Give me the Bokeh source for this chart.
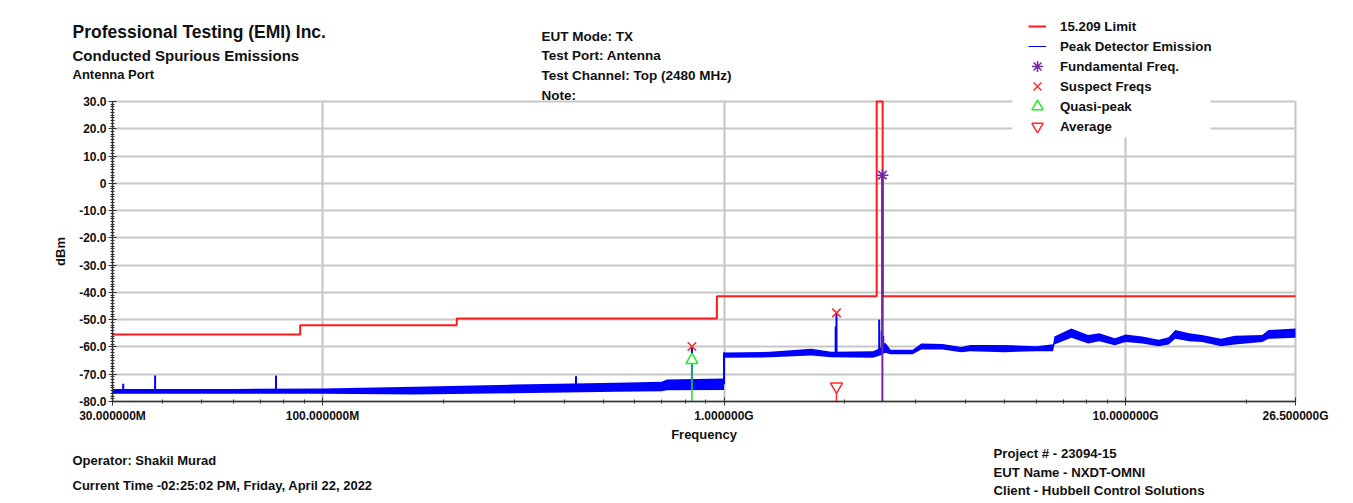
import numpy as np
from bokeh.plotting import figure
from bokeh.models import (Range1d, FixedTicker, CustomJSTickFormatter, Label,
                          Legend, LegendItem, BoxAnnotation)
from bokeh.embed import file_html
from bokeh.resources import INLINE

# ---------------- data (frequencies in MHz, levels in dBm) ----------------
limit_edges_mhz = [30, 88, 216, 960, 2400, 2483.5, 26500]
limit_dbm = [-55.4, -52.0, -49.6, -41.4, 30.0, -41.4]

low_f_mhz = [30, 60, 100, 170, 300, 540, 700, 720, 999.9]
low_min = [-77.2, -77.2, -77.2, -77.4, -77.0, -76.4, -76.2, -75.9, -75.8]
low_max = [-75.4, -75.4, -75.2, -74.6, -73.8, -73.1, -72.8, -71.9, -71.6]

high_f_mhz = [1000, 1300, 1650, 1850, 2350, 2450, 2520, 2600, 2950, 3100, 3500,
              3900, 4100, 5000, 6000, 6600, 6650, 7330, 8070, 8600, 9400, 10000,
              11000, 12100, 12800, 13300, 14400, 15500, 17300, 18700, 21900,
              22700, 26500]
high_min = [-64.0, -63.8, -63.1, -63.8, -64.0, -63.1, -62.1, -62.7, -62.7, -60.9,
            -60.9, -61.9, -61.6, -61.9, -61.6, -61.6, -59.1, -56.6, -58.7, -57.9,
            -59.4, -58.2, -58.7, -59.7, -59.1, -57.0, -57.9, -58.2, -59.7, -59.1,
            -58.2, -57.0, -56.6]
high_max = [-62.0, -61.8, -60.7, -61.8, -61.6, -60.4, -58.4, -61.0, -61.0, -58.7,
            -58.9, -60.0, -59.3, -59.3, -59.7, -59.0, -56.2, -53.2, -55.6, -55.0,
            -56.8, -55.4, -56.2, -57.4, -56.4, -53.8, -55.0, -55.6, -57.0, -55.9,
            -55.6, -53.8, -53.2]

spike_f_mhz = [31.9, 38.3, 76.6, 428, 832, 1897, 1906, 2435, 2470, 2480, 2492]
spike_dbm = [-73.5, -70.5, -70.5, -70.7, -59.8, -52.5, -47.5, -50.0, -54.0, 3.0, -56.0]

fund_f_mhz = [2480]
fund_dbm = [3.0]
suspect_f_mhz = [832, 1906]
suspect_dbm = [-59.8, -47.5]
qp_f_mhz = [832]
qp_dbm = [-64.8]
avg_f_mhz = [1906]
avg_dbm = [-74.5]

y_ticks = [-80, -70, -60, -50, -40, -30, -20, -10, 0, 10, 20, 30]
x_major_mhz = [30, 100, 1000, 10000, 26500]
x_minor_mhz = [40, 50, 60, 70, 80, 90, 200, 300, 400, 500, 600, 700, 800, 900,
               2000, 3000, 4000, 5000, 6000, 7000, 8000, 9000, 20000]
x_grid_mhz = [100, 1000, 10000, 26500]

# ---------------- layout helpers ----------------
M = 1e6
XMIN, XMAX, YMIN, YMAX = 30 * M, 26.5e9, -80, 30
W, H = 1340, 500
PL, PR = 112, 1295          # pixel columns of 30 MHz and 26.5 GHz
PT, PB = 101, 401           # pixel rows of 30 dBm and -80 dBm
DEC = np.log10(XMAX / XMIN)
KX = DEC / (PR - PL)
KY = (YMAX - YMIN) / (PB - PT)
X_LEFT = XMIN * 10 ** (-PL * KX)
X_RIGHT = XMIN * 10 ** ((W - PL) * KX)
Y_TOP = YMAX + PT * KY
Y_BOT = YMAX - (H - PT) * KY
FONT = "Liberation Sans"


def px_to_data(X, Y):
    return XMIN * 10 ** ((X - PL) * KX), YMAX - (Y - PT) * KY


p = figure(width=W, height=H, x_axis_type="log",
           x_range=Range1d(X_LEFT, X_RIGHT), y_range=Range1d(Y_BOT, Y_TOP),
           output_backend="svg", toolbar_location=None,
           min_border_left=0, min_border_right=0,
           min_border_top=0, min_border_bottom=0)
p.background_fill_color = "white"
p.border_fill_color = "white"
p.outline_line_color = None

# grids (limited to the 30 MHz..26.5 GHz x -80..30 dBm box)
GRID_X_COLOR, GRID_Y_COLOR = "#c4c4c4", "#c8c8c8"
if "cross_bounds" in p.ygrid[0].properties():
    p.ygrid.ticker = FixedTicker(ticks=y_ticks)
    p.ygrid.cross_bounds = (XMIN, XMAX)
    p.ygrid.grid_line_color = GRID_Y_COLOR
    p.ygrid.grid_line_width = 2
    p.xgrid.ticker = FixedTicker(ticks=[f * M for f in x_grid_mhz])
    p.xgrid.cross_bounds = (YMIN, YMAX)
    p.xgrid.grid_line_color = GRID_X_COLOR
    p.xgrid.grid_line_width = 2
else:
    p.xgrid.visible = False
    p.ygrid.visible = False
    p.segment(x0=[XMIN] * len(y_ticks), y0=y_ticks, x1=[XMAX] * len(y_ticks),
              y1=y_ticks, line_color=GRID_Y_COLOR, line_width=2)
    p.segment(x0=[f * M for f in x_grid_mhz], y0=[YMIN] * len(x_grid_mhz),
              x1=[f * M for f in x_grid_mhz], y1=[YMAX] * len(x_grid_mhz),
              line_color=GRID_X_COLOR, line_width=2)

# axes
xa = p.xaxis[0]
xa.fixed_location = YMIN
xa.bounds = (XMIN, XMAX)
xa.ticker = FixedTicker(ticks=[f * M for f in x_major_mhz],
                        minor_ticks=[f * M for f in x_minor_mhz])
xa.formatter = CustomJSTickFormatter(code="""
  if (tick >= 1e9) { return (tick/1e9).toFixed(6) + "G"; }
  return (tick/1e6).toFixed(6) + "M";
""")
ya = p.yaxis[0]
ya.fixed_location = XMIN
ya.bounds = (YMIN, YMAX)
ya.ticker = FixedTicker(ticks=y_ticks, minor_ticks=list(range(-80, 31, 1)))
ya.formatter = CustomJSTickFormatter(code="""
  if (Math.abs(tick) < 1e-9) { return "0"; }
  return tick.toFixed(1);
""")
for ax in (xa, ya):
    ax.axis_line_color = "#333333"
    ax.axis_line_width = 1.5
    ax.major_tick_line_color = "#333333"
    ax.minor_tick_line_color = "#333333"
    ax.major_tick_in = 4
    ax.major_tick_out = 4
    ax.minor_tick_in = 2
    ax.minor_tick_out = 2
    ax.major_label_text_font = FONT
    ax.major_label_text_font_style = "bold"
    ax.major_label_text_font_size = "12px"
    ax.major_label_text_color = "#111111"
    ax.axis_label_text_font = FONT
    ax.axis_label_text_font_style = "bold"
    ax.axis_label_text_font_size = "13px"
    ax.axis_label_text_color = "#111111"
xa.axis_label = "Frequency"
xa.major_label_standoff = 3
xa.axis_label_standoff = 1
ya.axis_label = "dBm"
ya.major_label_standoff = 2
ya.axis_label_standoff = 8

# ---------------- marks ----------------
ex, ey = [], []
for i in range(len(limit_dbm)):
    ex += [limit_edges_mhz[i] * M, limit_edges_mhz[i + 1] * M]
    ey += [limit_dbm[i], limit_dbm[i]]
limit_r = p.line(ex, ey, line_color="#ff1a1a", line_width=2)

lf = np.array(low_f_mhz) * M
hf = np.array(high_f_mhz) * M
p.varea(x=lf, y1=low_min, y2=low_max, fill_color="#0000ff")
p.varea(x=hf, y1=high_min, y2=high_max, fill_color="#0000ff")
p.segment(x0=[1000 * M], y0=[(low_min[-1] + low_max[-1]) / 2],
          x1=[1000 * M], y1=[high_max[0]], line_color="#0000ff", line_width=2)

all_f = np.concatenate([lf, hf])
all_mid = np.concatenate([(np.array(low_min) + np.array(low_max)) / 2,
                          (np.array(high_min) + np.array(high_max)) / 2])
sf = np.array(spike_f_mhz) * M
sbase = np.interp(np.log10(sf), np.log10(all_f), all_mid)
p.segment(x0=sf, y0=sbase, x1=sf, y1=spike_dbm, line_color="#0000ff", line_width=2)

peak_leg = p.line([np.nan], [np.nan], line_color="#0000ff", line_width=1)

p.segment(x0=[f * M for f in fund_f_mhz], y0=fund_dbm,
          x1=[f * M for f in fund_f_mhz], y1=[YMIN] * len(fund_f_mhz),
          line_color="#7a25a6", line_width=2)
p.segment(x0=[f * M for f in qp_f_mhz], y0=qp_dbm,
          x1=[f * M for f in qp_f_mhz], y1=[YMIN] * len(qp_f_mhz),
          line_color="#22dd22", line_width=1.5)
p.segment(x0=[f * M for f in avg_f_mhz], y0=avg_dbm,
          x1=[f * M for f in avg_f_mhz], y1=[YMIN] * len(avg_f_mhz),
          line_color="#ff2a2a", line_width=1.5)

fund_r = p.scatter([f * M for f in fund_f_mhz], fund_dbm, marker="asterisk",
                   size=12, line_color="#7a25a6", line_width=1.5)
sus_r = p.scatter([f * M for f in suspect_f_mhz], suspect_dbm, marker="x",
                  size=12, line_color="#ff2a2a", line_width=1.5)
qp_r = p.scatter([f * M for f in qp_f_mhz], qp_dbm, marker="triangle",
                 size=12, line_color="#22ee22", fill_color="white", line_width=1.5)
avg_r = p.scatter([f * M for f in avg_f_mhz], avg_dbm, marker="inverted_triangle",
                  size=12, line_color="#ff2a2a", fill_color="white", line_width=1.5)

# ---------------- legend ----------------
bx0, by0 = px_to_data(1012, 12)
bx1, by1 = px_to_data(1210, 137)
p.add_layout(BoxAnnotation(left=bx0, right=bx1, top=by0, bottom=by1,
                           fill_color="white", fill_alpha=1.0, line_color=None))


def style_legend(lg):
    lg.label_text_font = FONT
    lg.label_text_font_style = "bold"
    lg.label_text_font_size = "13.3px"
    lg.label_text_color = "#111111"
    lg.margin = 0
    lg.padding = 0
    lg.border_line_color = None
    lg.background_fill_alpha = 0.0


leg_lines = Legend(items=[
    LegendItem(label="15.209 Limit", renderers=[limit_r]),
    LegendItem(label="Peak Detector Emission", renderers=[peak_leg]),
], location=(1028, H - 56))
style_legend(leg_lines)
leg_lines.glyph_width = 18
leg_lines.glyph_height = 20
leg_lines.label_height = 20
leg_lines.spacing = 0
leg_lines.label_standoff = 14
p.add_layout(leg_lines)

# marker entries: one legend per row, bigger glyph box so markers are ~11px
marker_rows = [("Fundamental Freq.", fund_r, 66), ("Suspect Freqs", sus_r, 86),
               ("Quasi-peak", qp_r, 106), ("Average", avg_r, 126)]
for lab, rend, cy in marker_rows:
    lg = Legend(items=[LegendItem(label=lab, renderers=[rend])],
                location=(1023, H - (cy + 14)))
    style_legend(lg)
    lg.glyph_width = 28
    lg.glyph_height = 28
    lg.label_height = 28
    lg.spacing = 0
    lg.label_standoff = 9
    p.add_layout(lg)

# ---------------- texts ----------------
texts = [
    ("Professional Testing (EMI) Inc.", 72, 31, "17.5px"),
    ("Conducted Spurious Emissions", 72, 55, "15px"),
    ("Antenna Port", 72, 74, "13px"),
    ("EUT Mode: TX", 541, 36, "13.5px"),
    ("Test Port: Antenna", 541, 55, "13.5px"),
    ("Test Channel: Top (2480 MHz)", 541, 75, "13.5px"),
    ("Note:", 541, 95, "13.5px"),
    ("Operator: Shakil Murad", 72, 460, "13px"),
    ("Current Time -02:25:02 PM, Friday, April 22, 2022", 72, 485, "13px"),
    ("Project # - 23094-15", 993, 453, "13.2px"),
    ("EUT Name - NXDT-OMNI", 993, 472, "13.2px"),
    ("Client - Hubbell Control Solutions", 993, 490, "13.2px"),
]
for t, X, Y, fs in texts:
    dx, dy = px_to_data(X, Y)
    p.add_layout(Label(x=dx, y=dy, text=t, text_font=FONT, text_font_style="bold",
                       text_font_size=fs, text_color="#111111",
                       text_baseline="middle", text_align="left"))

open("out.html", "w").write(file_html(p, INLINE))
